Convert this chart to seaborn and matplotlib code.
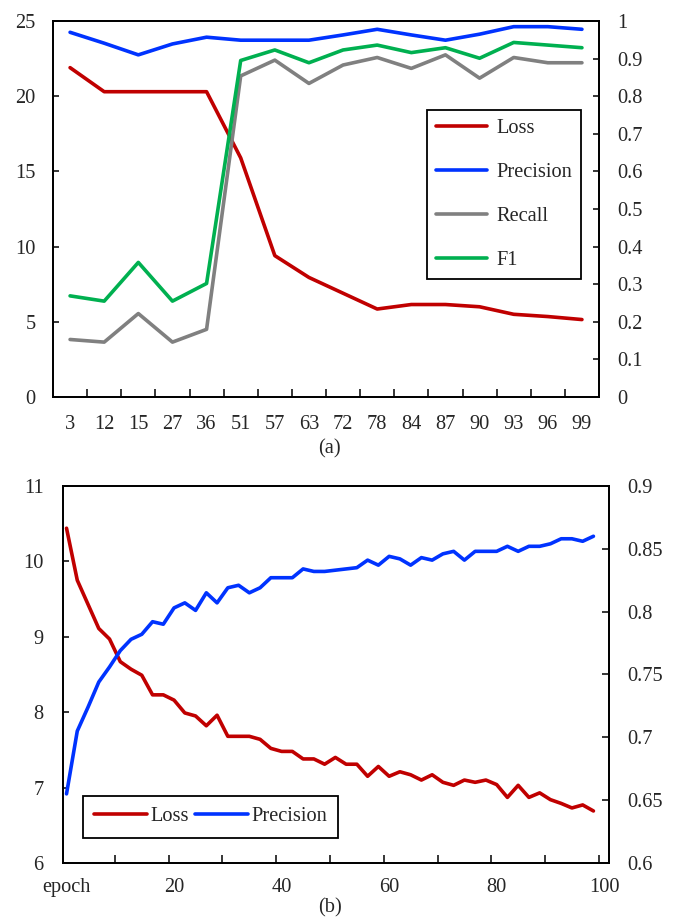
import numpy as np
import pandas as pd
import matplotlib
matplotlib.use('Agg')
import matplotlib.pyplot as plt
import seaborn as sns

# ---- data (a) ----
cats_a = ['3', '12', '15', '27', '36', '51', '57', '63', '72', '78', '84', '87', '90', '93', '96', '99']
loss_a = [21.9, 20.3, 20.3, 20.3, 20.3, 15.9, 9.4, 7.95, 6.9, 5.85, 6.15, 6.15, 6.0, 5.5, 5.35, 5.15]
prec_a = [0.970, 0.941, 0.910, 0.939, 0.957, 0.949, 0.949, 0.949, 0.963, 0.978, 0.963, 0.949, 0.965, 0.985, 0.985, 0.978]
recall_a = [0.153, 0.146, 0.222, 0.146, 0.180, 0.854, 0.896, 0.834, 0.883, 0.903, 0.874, 0.910, 0.848, 0.903, 0.889, 0.889]
f1_a = [0.269, 0.255, 0.358, 0.255, 0.302, 0.895, 0.923, 0.889, 0.923, 0.936, 0.916, 0.929, 0.901, 0.943, 0.936, 0.929]

# ---- data (b) ----
epoch_b = list(range(1, 100, 2))
loss_b = [10.44, 9.75, 9.43, 9.11, 8.97, 8.67, 8.57, 8.49, 8.23, 8.23,
          8.16, 7.99, 7.95, 7.82, 7.96, 7.68, 7.68, 7.68, 7.64, 7.52,
          7.48, 7.48, 7.38, 7.38, 7.31, 7.40, 7.31, 7.31, 7.15, 7.28,
          7.15, 7.21, 7.17, 7.10, 7.17, 7.07, 7.03, 7.10, 7.07, 7.10,
          7.04, 6.87, 7.03, 6.87, 6.93, 6.84, 6.79, 6.73, 6.77, 6.69]
prec_b = [0.655, 0.705, 0.724, 0.744, 0.756, 0.769, 0.778, 0.782, 0.792, 0.790,
          0.803, 0.807, 0.801, 0.815, 0.807, 0.819, 0.821, 0.815, 0.819, 0.827,
          0.827, 0.827, 0.834, 0.832, 0.832, 0.833, 0.834, 0.835, 0.841, 0.837,
          0.844, 0.842, 0.837, 0.843, 0.841, 0.846, 0.848, 0.841, 0.848, 0.848,
          0.848, 0.852, 0.848, 0.852, 0.852, 0.854, 0.858, 0.858, 0.856, 0.860]

RED = '#C00000'
BLUE = '#0033FF'
GREY = '#808080'
GREEN = '#00B050'

sns.set_style('ticks')
plt.rcParams['font.family'] = ['Liberation Serif', 'DejaVu Serif']
plt.rcParams['font.size'] = 14.7
plt.rcParams['axes.linewidth'] = 1.3

fig = plt.figure(figsize=(6.77, 9.22), dpi=100)

# ================= (a) =================
ax1 = fig.add_axes([0.0783, 0.5694, 0.8065, 0.4078])
ax2 = ax1.twinx()
pos_a = np.arange(len(cats_a)) + 0.5
df_a = pd.DataFrame({'pos': pos_a, 'Loss': loss_a, 'Precision': prec_a,
                     'Recall': recall_a, 'F1': f1_a})
lw = 2.6
sns.lineplot(data=df_a, x='pos', y='Loss', ax=ax1, color=RED, lw=lw, legend=False)
sns.lineplot(data=df_a, x='pos', y='Precision', ax=ax2, color=BLUE, lw=lw, legend=False)
sns.lineplot(data=df_a, x='pos', y='Recall', ax=ax2, color=GREY, lw=lw, legend=False)
sns.lineplot(data=df_a, x='pos', y='F1', ax=ax2, color=GREEN, lw=lw, legend=False)

ax1.set_xlim(0, len(cats_a))
ax1.set_ylim(0, 25)
ax2.set_ylim(0, 1)
ax1.set_yticks([0, 5, 10, 15, 20, 25])
ax2.set_yticks(np.arange(0, 1.01, 0.1))
ax2.set_yticklabels(['0', '0.1', '0.2', '0.3', '0.4', '0.5', '0.6', '0.7', '0.8', '0.9', '1'])
ax1.set_xticks(np.arange(1, len(cats_a)))
ax1.set_xticklabels([])
ax1.set_xticks(pos_a, cats_a, minor=True)
ax1.tick_params(axis='x', which='major', direction='in', length=6, width=1.3)
ax1.tick_params(axis='x', which='minor', length=0, pad=13)
ax1.tick_params(axis='y', direction='in', length=4, width=1.3, pad=12.5)
ax2.tick_params(axis='y', direction='in', length=4, width=1.3, pad=13)
ax1.set_xlabel('')
ax1.set_ylabel('')
ax2.set_ylabel('')
for ax in (ax1, ax2):
    for s in ax.spines.values():
        s.set_visible(True)
        s.set_color('black')

h = ax1.get_lines()[:1] + ax2.get_lines()
leg = ax2.legend(h, ['Loss', 'Precision', 'Recall', 'F1'], loc='upper left',
                 bbox_to_anchor=(0.6307, 0.8807), bbox_transform=fig.transFigure,
                 frameon=True, fancybox=False, edgecolor='black', framealpha=1,
                 handlelength=2.5, handletextpad=0.45, labelspacing=1.2,
                 borderpad=0.45, borderaxespad=0)
leg.get_frame().set_linewidth(1.3)

fig.text(0.487, 1 - 449 / 922, '(a)', ha='center', va='center')

# ================= (b) =================
ax3 = fig.add_axes([0.0931, 0.0640, 0.8065, 0.4089])
ax4 = ax3.twinx()
df_b = pd.DataFrame({'epoch': epoch_b, 'Loss': loss_b, 'Precision': prec_b})
sns.lineplot(data=df_b, x='epoch', y='Loss', ax=ax3, color=RED, lw=lw, legend=False)
sns.lineplot(data=df_b, x='epoch', y='Precision', ax=ax4, color=BLUE, lw=lw, legend=False)

ax3.set_xlim(0.35, 101.9)
ax3.set_ylim(6, 11)
ax4.set_ylim(0.6, 0.9)
ax3.set_yticks([6, 7, 8, 9, 10, 11])
ax4.set_yticks([0.6, 0.65, 0.7, 0.75, 0.8, 0.85, 0.9])
ax4.set_yticklabels(['0.6', '0.65', '0.7', '0.75', '0.8', '0.85', '0.9'])
ax3.set_xticks(np.arange(10, 101, 10))
ax3.set_xticklabels([])
ax3.set_xticks([1, 21, 41, 61, 81, 101], ['epoch', '20', '40', '60', '80', '100'], minor=True)
ax3.tick_params(axis='x', which='major', direction='in', length=6, width=1.3)
ax3.tick_params(axis='x', which='minor', length=0, pad=11)
ax3.tick_params(axis='y', direction='in', length=4, width=1.3, pad=14)
ax4.tick_params(axis='y', direction='in', length=5, width=1.3, pad=13)
ax3.set_xlabel('')
ax3.set_ylabel('')
ax4.set_ylabel('')
for ax in (ax3, ax4):
    for s in ax.spines.values():
        s.set_visible(True)
        s.set_color('black')

leg2 = ax4.legend(ax3.get_lines()[:1] + ax4.get_lines()[:1], ['Loss', 'Precision'],
                  loc='upper left', ncol=2,
                  bbox_to_anchor=(0.1226, 0.1367), bbox_transform=fig.transFigure,
                  frameon=True, fancybox=False, edgecolor='black', framealpha=1,
                  handlelength=2.6, handletextpad=0.15, columnspacing=0.3,
                  borderpad=0.55, borderaxespad=0)
leg2.get_frame().set_linewidth(1.3)

fig.text(0.487, 1 - 908 / 922, '(b)', ha='center', va='center')

fig.savefig('out.png', dpi=100)
